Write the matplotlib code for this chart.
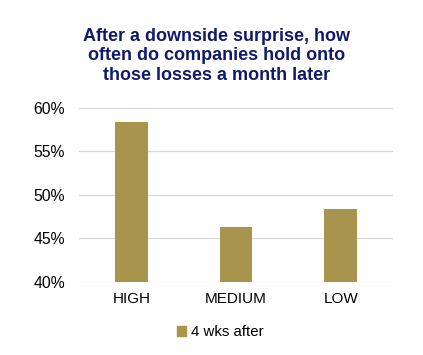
import numpy as np
import matplotlib
matplotlib.use('Agg')
import matplotlib.pyplot as plt
from matplotlib.patches import Patch

plt.rcParams['font.family'] = ['Liberation Sans', 'DejaVu Sans']

# dati
categories = ['HIGH', 'MEDIUM', 'LOW']
values = [58.4, 46.3, 48.4]
series_name = '4 wks after'
title = 'After a downside surprise, how\noften do companies hold onto\nthose losses a month later'

bar_color = '#A8944C'
title_color = '#101A6C'

fig = plt.figure(figsize=(4.23, 3.55), dpi=100)
ax = fig.add_axes([79/423, 1 - 282/355, 314/423, 174/355])

x = np.arange(len(categories))
ax.bar(x, np.array(values) - 40, bottom=40, width=0.31, color=bar_color, zorder=3)

ax.set_xlim(-0.5, 2.5)
ax.set_ylim(40, 60)
ax.set_yticks(np.arange(40, 61, 5))
ax.set_yticklabels([f'{v}%' for v in range(40, 61, 5)], fontsize=11.3)
ax.set_xticks(x)
ax.set_xticklabels(categories, fontsize=11)
ax.tick_params(axis='y', length=0, pad=10)
ax.tick_params(axis='x', length=0, pad=7)
ax.grid(axis='y', color='#D9D9D9', linewidth=0.9, zorder=0)
for s in ax.spines.values():
    s.set_visible(False)

fig.text(0.513, 1 - 56/355, title, ha='center', va='center', fontsize=13,
         fontweight='bold', color=title_color, linespacing=1.22)

fig.legend(handles=[Patch(color=bar_color, label=series_name)],
           loc='center', bbox_to_anchor=(0.52, 1 - 332/355), frameon=False,
           fontsize=10.8, handlelength=0.65, handleheight=0.65, handletextpad=0.3)

fig.savefig('out.png', dpi=100)
